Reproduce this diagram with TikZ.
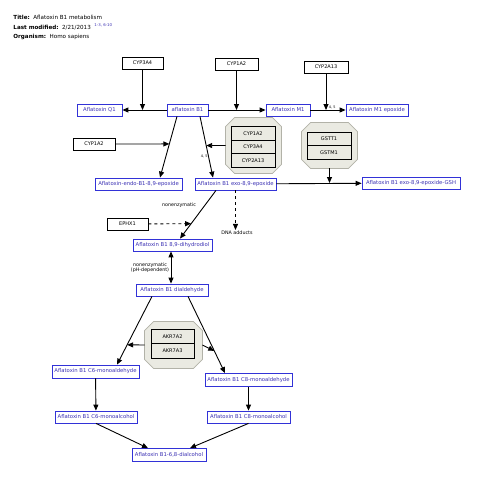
\documentclass[tikz,border=0pt]{standalone}
\usepackage{fontspec}
\setmainfont{DejaVu Sans}
\usetikzlibrary{arrows.meta}
\definecolor{metabBlue}{RGB}{50,50,215}
\definecolor{metabText}{RGB}{60,50,180}
\definecolor{groupFill}{RGB}{234,234,226}
\definecolor{groupLine}{RGB}{178,178,168}
\tikzset{every picture/.style={line width=0.9pt}}
\tikzset{
  metab/.style={draw=metabBlue, text=metabText, line width=0.8pt, inner sep=0pt, minimum height=12, font=\fontsize{5.3}{6}\selectfont},
  gene/.style={draw=black, line width=0.8pt, inner sep=0pt, minimum height=12, font=\fontsize{5}{6}\selectfont},
  genegroup/.style={inner sep=0pt},
  groupbox/.style={draw=groupLine, fill=groupFill, line width=0.8pt},
  generow/.style={draw=black, line width=1pt, inner sep=0pt, font=\fontsize{5}{6}\selectfont},
  conv/.style={-{Triangle[length=6pt,width=5pt]}, line width=0.9pt},
  biconv/.style={{Triangle[length=6pt,width=5pt]}-{Triangle[length=6pt,width=5pt]}, line width=0.9pt},
  smalltext/.style={inner sep=0.75pt, font=\fontsize{4.8}{5.6}\selectfont, align=center},
  tinytext/.style={inner sep=0.5pt, font=\fontsize{3.5}{4}\selectfont},
  headtext/.style={inner sep=0pt, anchor=west, font=\fontsize{5.6}{6.5}\selectfont},
}

\begin{document}
\begin{tikzpicture}[x=1pt,y=1pt,yscale=-1,xscale=1]
\fill[white] (0,0) rectangle (480,480);
\useasboundingbox (0,0) rectangle (480,480);

% Text Node
\node[headtext] (titleline) at (13,17) {\textbf{Title:}\ \ Aflatoxin B1 metabolism};
% Text Node
\node[headtext] (dateline) at (13,27) {\textbf{Last modified:}\ \ 2/21/2013\ \ \textsuperscript{\color{metabText}1-3, 6-10}};
% Text Node
\node[headtext] (orgline) at (13,37) {\textbf{Organism:}\ \ Homo sapiens};

%Shape: Octagon (gene groups)
\node[genegroup, minimum width=55, minimum height=55] (cypgroup) at (253.5,145.5) {};
\node[genegroup, minimum width=55, minimum height=45] (gstgroup) at (329.5,145.5) {};
\node[genegroup, minimum width=57, minimum height=46] (akrgroup) at (173.5,345) {};
\foreach \grp in {cypgroup,gstgroup,akrgroup}
  \filldraw[groupbox] ([xshift=9]\grp.north west) -- ([xshift=-9]\grp.north east)
    -- ([yshift=9]\grp.north east) -- ([yshift=-9]\grp.south east)
    -- ([xshift=-9]\grp.south east) -- ([xshift=9]\grp.south west)
    -- ([yshift=-9]\grp.south west) -- ([yshift=9]\grp.north west) -- cycle;
\node[generow, minimum width=44, minimum height=13.5] (cyprowa) at (253,133.5) {CYP1A2};
\node[generow, minimum width=44, minimum height=13.5] (cyprowb) at (253,147) {CYP3A4};
\node[generow, minimum width=44, minimum height=13.5] (cyprowc) at (253,160.5) {CYP2A13};
\node[generow, minimum width=44, minimum height=13.5] (gstrowa) at (329,139) {GSTT1};
\node[generow, minimum width=44, minimum height=13.5] (gstrowb) at (329,152.5) {GSTM1};
\node[generow, minimum width=43, minimum height=14.5] (akrrowa) at (172.5,336.5) {AKR7A2};
\node[generow, minimum width=43, minimum height=14.5] (akrrowb) at (172.5,351) {AKR7A3};

%Shape: Rectangle (genes)
\node[gene, minimum width=41] (cypthreea) at (142.5,63) {CYP3A4};
\node[gene, minimum width=43] (cyponetop) at (236.5,64) {CYP1A2};
\node[gene, minimum width=44] (cyptwoa) at (326,67) {CYP2A13};
\node[gene, minimum width=42] (cyponeleft) at (94,144) {CYP1A2};
\node[gene, minimum width=41] (ephx) at (127.5,224) {EPHX1};

%Shape: Rectangle (metabolites)
\node[metab, minimum width=45] (afqone) at (99.5,110) {Aflatoxin Q1};
\node[metab, minimum width=41] (afbone) at (187.5,110) {aflatoxin B1};
\node[metab, minimum width=44] (afmone) at (288,110) {Aflatoxin M1};
\node[metab, minimum width=62] (afmepox) at (377,110) {Aflatoxin M1 epoxide};
\node[metab, minimum width=87] (afendo) at (138.5,184) {Aflatoxin-endo-B1-8,9-epoxide};
\node[metab, minimum width=81] (afexo) at (235.5,184) {Aflatoxin B1 exo-8,9-epoxide};
\node[metab, minimum width=98] (afgsh) at (411,183) {Aflatoxin B1 exo-8,9-epoxide-GSH};
\node[metab, minimum width=79] (afdiol) at (172.5,245) {Aflatoxin B1 8,9-dihydrodiol};
\node[metab, minimum width=72] (afdiald) at (172,290) {Aflatoxin B1 dialdehyde};
\node[metab, minimum width=87, minimum height=13] (afcsixald) at (95.5,371.5) {Aflatoxin B1 C6-monoaldehyde};
\node[metab, minimum width=87, minimum height=13] (afceightald) at (248.5,380) {Aflatoxin B1 C8-monoaldehyde};
\node[metab, minimum width=82] (afcsixalc) at (96,417) {Aflatoxin B1 C6-monoalcohol};
\node[metab, minimum width=83] (afceightalc) at (248.5,417) {Aflatoxin B1 C8-monoalcohol};
\node[metab, minimum width=74, minimum height=13] (afdialc) at (169,455) {Aflatoxin B1-6,8-dialcohol};

% Text Node
\node[smalltext] (nonenzlab) at (179,205) {nonenzymatic};
% Text Node
\node[smalltext] (dnalab) at (237,233) {DNA adducts};
% Text Node
\node[smalltext] (phlab) at (150,267.5) {nonenzymatic\\(pH-dependent)};

%Straight Lines (conversions)
\draw[conv] (afbone) -- (afqone);
\draw[conv] (afbone) -- (afmone);
\draw[conv] (afmone) -- node[pos=0.62, anchor=south, tinytext] (labmepox) {4, 5} (afmepox);
\draw[conv] ([xshift=-10.5]afbone.south) -- coordinate[pos=0.45] (endocat) ([xshift=21.5]afendo.north);
\draw[conv] ([xshift=12.5]afbone.south) -- coordinate[pos=0.476] (exocat) node[pos=0.66, anchor=east, tinytext] (labexo) {4, 5} ([xshift=-22.5]afexo.north);
\draw[conv] (afexo) -- (afgsh);
\draw[conv] ([xshift=-19.5]afexo.south) -- coordinate[pos=0.69] (diolcat) ([xshift=7.5]afdiol.north);
\draw[conv, dashed] (afexo.south) -- (afexo.south |- dnalab.north);
\draw[biconv] ([xshift=-1.5]afdiol.south) -- ([xshift=-1]afdiald.north);
\draw[conv] ([xshift=-20]afdiald.south) -- coordinate[pos=0.71] (csixcat) ([xshift=21.5]afcsixald.north);
\draw[conv] ([xshift=16]afdiald.south) -- coordinate[pos=0.71] (ceightcat) ([xshift=-23.5]afceightald.north);
\draw[conv] (afcsixald) -- (afcsixalc);
\draw[conv] (afceightald) -- (afceightalc);
\draw[conv] (afcsixalc.south) -- ([xshift=-21]afdialc.north);
\draw[conv] (afceightalc.south) -- ([xshift=21]afdialc.north);

%Straight Lines (catalysis)
\draw[conv] (cypthreea) -- (cypthreea |- afqone);
\draw[conv] (cyponetop) -- (cyponetop |- afmone);
\draw[conv] (cyptwoa) -- (cyptwoa |- afmepox);
\draw[conv] (cyponeleft) -- (endocat);
\draw[conv] (cypgroup.west) -- (exocat);
\draw[conv] (gstgroup.south) -- (gstgroup |- afgsh);
\draw[conv, dashed] (ephx) -- (diolcat);
\draw[conv] (akrgroup.west) -- (csixcat);
\draw[conv] (akrgroup.east) -- (ceightcat);

\end{tikzpicture}
\end{document}
